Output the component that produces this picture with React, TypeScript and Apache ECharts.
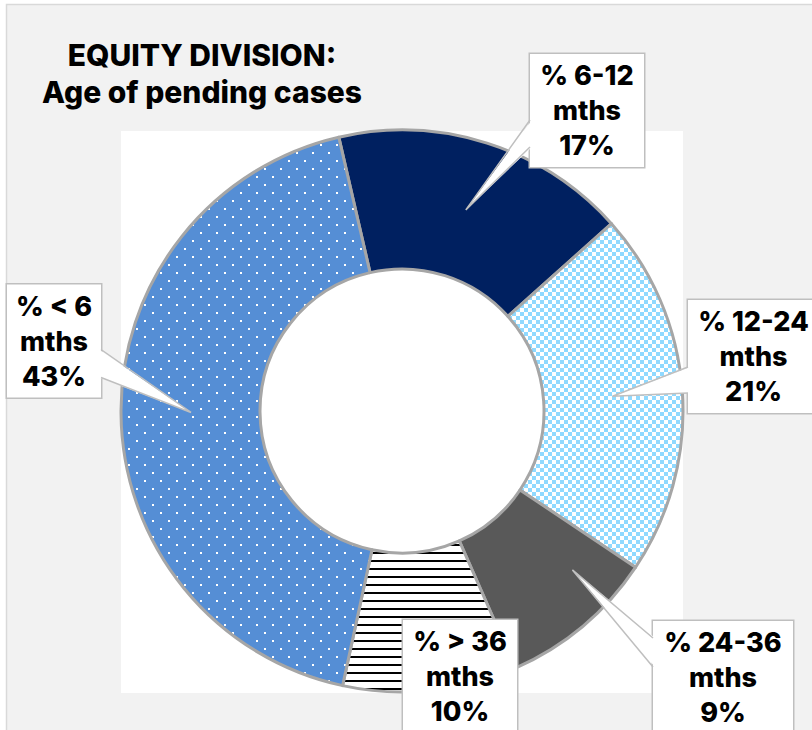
import React, { useEffect, useRef } from "react";
import * as echarts from "echarts";

// ---- data ----
const categories = ["% 6-12", "% 12-24", "% 24-36", "% > 36", "% < 6"];
const values = [17, 21, 9, 10, 43];
const unitText = "mths";
const titleLines = ["EQUITY DIVISION:", "Age of pending cases"];

// ---- layout / style (not data) ----
const CX = 402;
const CY = 411;
const R_IN = 142;
const R_OUT = 281;
const START = 103; // degrees, echarts convention
const BOX_H = 113;
const FONT = 'Inter, "Libre Franklin", Roboto, sans-serif';

type Box = { x: number; y: number; w: number; side: "left" | "right" | null; t0: number; t1: number; tipR: number; dA: number };
const boxes: Box[] = [
  { x: 587, y: 110.5, w: 114, side: "left", t0: 66, t1: 93, tipR: 211, dA: 0 },
  { x: 753.5, y: 356.5, w: 131, side: "left", t0: 67, t1: 93, tipR: 211, dA: 0 },
  { x: 723, y: 677.5, w: 140, side: "left", t0: 17, t1: 46, tipR: 233, dA: -7 },
  { x: 460, y: 676.5, w: 114, side: null, t0: 0, t1: 0, tipR: 211, dA: 0 },
  { x: 54, y: 341, w: 94, side: "right", t0: 65, t1: 93, tipR: 211, dA: 0 },
];

function makeCanvas(w: number, h: number, draw: (ctx: CanvasRenderingContext2D) => void) {
  const c = document.createElement("canvas");
  c.width = w;
  c.height = h;
  const ctx = c.getContext("2d") as CanvasRenderingContext2D;
  draw(ctx);
  return c;
}

export default function App() {
  const ref = useRef<HTMLDivElement>(null);

  useEffect(() => {
    if (!ref.current) return;
    const chart = echarts.init(ref.current, undefined, { renderer: "svg" });

    const dots = makeCanvas(16, 16, (ctx) => {
      ctx.fillStyle = "#558ed5";
      ctx.fillRect(0, 0, 16, 16);
      ctx.fillStyle = "#ffffff";
      ctx.fillRect(0, 0, 2, 2);
      ctx.fillRect(8, 8, 2, 2);
    });
    const checker = makeCanvas(8, 8, (ctx) => {
      ctx.fillStyle = "#ffffff";
      ctx.fillRect(0, 0, 8, 8);
      ctx.fillStyle = "#8fd9ff";
      ctx.fillRect(0, 0, 4, 4);
      ctx.fillRect(4, 4, 4, 4);
    });
    const stripes = makeCanvas(8, 8, (ctx) => {
      ctx.fillStyle = "#ffffff";
      ctx.fillRect(0, 0, 8, 8);
      ctx.fillStyle = "#000000";
      ctx.fillRect(0, 0, 8, 2);
    });

    const fills: any[] = [
      "#002060",
      { image: checker, repeat: "repeat" },
      "#595959",
      { image: stripes, repeat: "repeat" },
      { image: dots, repeat: "repeat" },
    ];

    const total = values.reduce((a, b) => a + b, 0);
    const startFromTop = 90 - START; // clockwise degrees from 12 o'clock
    let cum = 0;
    const tails: any[] = [];
    values.forEach((v, i) => {
      const mid = startFromTop + ((cum + v / 2) / total) * 360 + boxes[i].dA;
      cum += v;
      const b = boxes[i];
      if (!b.side) return;
      const a = (mid * Math.PI) / 180;
      const tx = CX + b.tipR * Math.sin(a);
      const ty = CY - b.tipR * Math.cos(a);
      const top = b.y - BOX_H / 2;
      const ex = b.side === "left" ? b.x - b.w / 2 : b.x + b.w / 2;
      const inset = b.side === "left" ? 2 : -2;
      tails.push({
        type: "polygon",
        z: 100,
        silent: true,
        shape: { points: [[ex + inset, top + b.t0], [tx, ty], [ex + inset, top + b.t1]] },
        style: { fill: "#ffffff", stroke: null },
      });
      tails.push({
        type: "polyline",
        z: 101,
        silent: true,
        shape: { points: [[ex, top + b.t0], [tx, ty], [ex, top + b.t1]] },
        style: { stroke: "#bfbfbf", lineWidth: 1.5, fill: null },
      });
    });

    chart.setOption({
      animation: false,
      backgroundColor: "transparent",
      graphic: [
        {
          type: "rect",
          z: -10,
          silent: true,
          shape: { x: 6.5, y: 4.5, width: 840, height: 760 },
          style: { fill: "#f2f2f2", stroke: "#d9d9d9", lineWidth: 1.5 },
        },
        {
          type: "rect",
          z: -5,
          silent: true,
          shape: { x: 121, y: 131, width: 562, height: 562 },
          style: { fill: "#ffffff" },
        },
        {
          type: "text",
          z: 5,
          silent: true,
          x: 202,
          y: 36,
          style: {
            text: titleLines.join("\n"),
            fill: "#000000",
            fontFamily: FONT,
            fontSize: 30,
            fontWeight: 800,
            lineHeight: 37,
            align: "center",
            verticalAlign: "top",
          },
        },
        ...tails,
      ],
      series: [
        {
          type: "pie",
          center: [CX, CY],
          radius: [R_IN, R_OUT],
          startAngle: START,
          clockwise: true,
          avoidLabelOverlap: false,
          silent: true,
          emphasis: { disabled: true },
          itemStyle: { borderColor: "#a6a6a6", borderWidth: 3 },
          labelLine: { show: false },
          label: {
            show: true,
            position: "outside",
            formatter: (p: any) => `${p.name}\n${unitText}\n${p.value}%`,
            color: "#000000",
            fontFamily: FONT,
            fontSize: 27,
            fontWeight: 800,
            lineHeight: 35,
            align: "center",
            backgroundColor: "#ffffff",
            borderColor: "#bfbfbf",
            borderWidth: 1.5,
            padding: [4, 9.5],
            overflow: "none",
          },
          labelLayout: (p: any) => ({
            x: boxes[p.dataIndex].x,
            y: boxes[p.dataIndex].y,
            align: "center",
            verticalAlign: "middle",
          }),
          data: categories.map((c, i) => ({
            name: c,
            value: values[i],
            itemStyle: { color: fills[i] },
            label: { width: boxes[i].w - 19 },
          })),
        },
      ],
    });

    return () => chart.dispose();
  }, []);

  return (
    <div
      ref={ref}
      style={{ position: "absolute", left: 0, top: 0, width: 812, height: 730, overflow: "hidden" }}
    />
  );
}
